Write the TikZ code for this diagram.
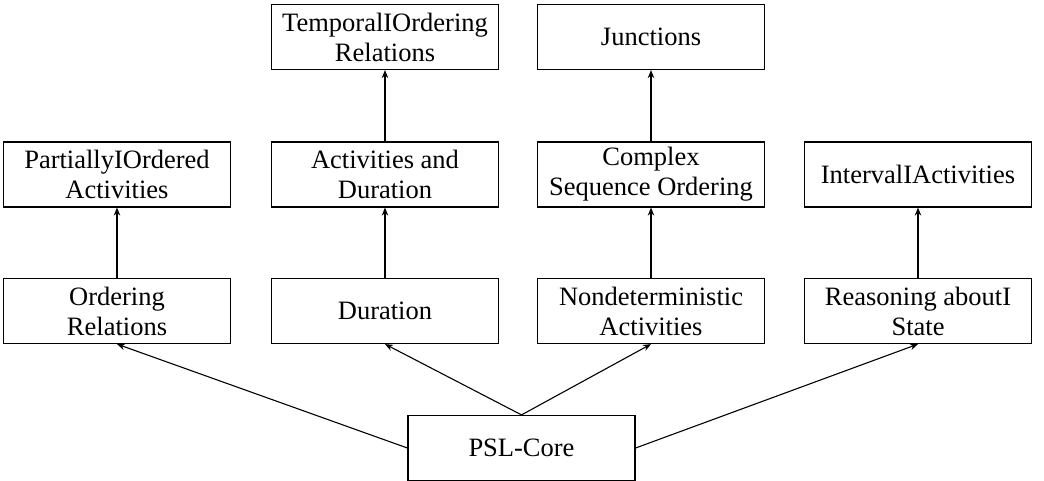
\documentclass[tikz,border=0pt]{standalone}
\usepackage{fontspec}
\setmainfont{Liberation Serif}
\usetikzlibrary{arrows.meta}
\begin{document}
\begin{tikzpicture}[x=1pt,y=-1pt,
  box/.style={draw,line width=1.2pt,minimum width=227pt,minimum height=65pt,inner sep=2pt,align=center,
    font=\fontsize{26.5}{30}\selectfont},
  conn/.style={line width=1.1pt,-{Stealth[length=8pt,width=6.5pt]}}]
\useasboundingbox (0,0) rectangle (1044,480);
\node[box] (tor) at (385,37) {TemporalIOrdering\\Relations};
\node[box] (jun) at (651,37) {Junctions};
\node[box] (poa) at (117,174.5) {PartiallyIOrdered\\Activities};
\node[box] (aad) at (385,174.5) {Activities and\\Duration};
\node[box] (cso) at (651,174.5) {Complex\\Sequence Ordering};
\node[box] (ia) at (918,174.5) {IntervalIActivities};
\node[box] (ord) at (117,311) {Ordering\\Relations};
\node[box] (dur) at (385,311) {Duration};
\node[box] (nda) at (651,311) {Nondeterministic\\Activities};
\node[box] (ras) at (918,311) {Reasoning aboutI\\State};
\node[box] (psl) at (521.5,448) {PSL-Core};
\draw[conn] (ord) -- (poa);
\draw[conn] (dur) -- (aad);
\draw[conn] (aad) -- (tor);
\draw[conn] (nda) -- (cso);
\draw[conn] (cso) -- (jun);
\draw[conn] (ras) -- (ia);
\draw[conn] (psl.west) -- (ord.south);
\draw[conn] (psl.north) -- (dur.south);
\draw[conn] (psl.north) -- (nda.south);
\draw[conn] (psl.east) -- (ras.south);
\end{tikzpicture}
\end{document}
